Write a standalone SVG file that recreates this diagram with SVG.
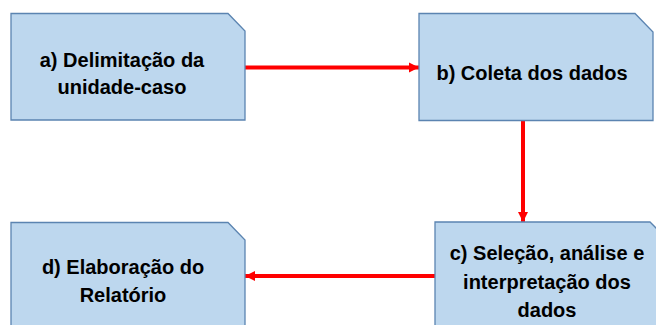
<svg xmlns="http://www.w3.org/2000/svg" width="656" height="325" viewBox="0 0 656 325">
<defs>
<style>
.box{fill:#BDD7EE;stroke:#5B84B1;stroke-width:1.3}
.t{font-family:"Liberation Sans",Arial,sans-serif;font-weight:bold;font-size:20px;fill:#000;text-anchor:middle}
.c{stroke:#FF0000;stroke-width:4;fill:none}
</style>
<marker id="ah" viewBox="0 0 10 10" refX="10" refY="5" markerWidth="2.6" markerHeight="2.6" orient="auto" markerUnits="strokeWidth">
<path d="M0,0 L10,5 L0,10 z" fill="#FF0000"/>
</marker>
</defs>
<rect width="656" height="325" fill="#FFFFFF"/>
<g id="connectors">
<line class="c" x1="245" y1="67.5" x2="419" y2="67.5" marker-end="url(#ah)"/>
<line class="c" x1="523" y1="121" x2="523" y2="222" marker-end="url(#ah)"/>
<line class="c" x1="435" y1="276" x2="245" y2="276" marker-end="url(#ah)"/>
</g>
<g id="node-a">
<path class="box" d="M11,13.5 H228 L245,31 V120 H11 Z"/>
<text class="t" x="122" y="67">a) Delimitação da</text>
<text class="t" x="122" y="94">unidade-caso</text>
</g>
<g id="node-b">
<path class="box" d="M419,13.5 H635 L653,32 V120.5 H419 Z"/>
<text class="t" x="532" y="80">b) Coleta dos dados</text>
</g>
<g id="node-c">
<path class="box" d="M435,222 H650 L668,240 V340 H435 Z"/>
<text class="t" x="547" y="260">c) Seleção, análise e</text>
<text class="t" x="547" y="289">interpretação dos</text>
<text class="t" x="547" y="317">dados</text>
</g>
<g id="node-d">
<path class="box" d="M11,222.5 H228 L245,240 V340 H11 Z"/>
<text class="t" x="123" y="274">d) Elaboração do</text>
<text class="t" x="123" y="301.5">Relatório</text>
</g>
</svg>
